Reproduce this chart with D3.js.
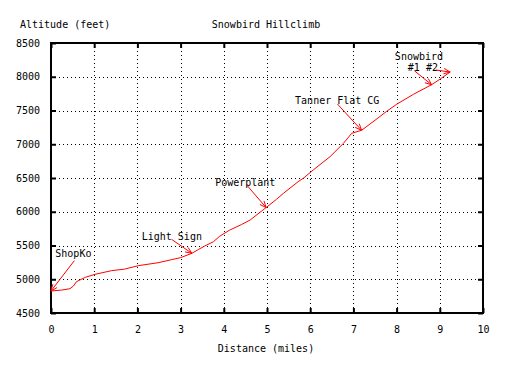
<!DOCTYPE html>
<html>
<head>
<meta charset="utf-8">
<script src="https://cdn.jsdelivr.net/npm/d3@7"></script>
<style>
  body { margin: 0; background: #fff; }
  svg { display: block; }
  text { font-family: "DejaVu Sans Mono", "Liberation Mono", monospace; font-size: 10px; fill: #000; }
</style>
</head>
<body>
<svg id="chart" width="522" height="367"></svg>
<script>
// ---- data ----
const distance = [0, 0.25, 0.44, 0.52, 0.59, 0.8, 1.02, 1.4, 1.7, 2.02, 2.48, 2.79, 3.0, 3.26, 3.41, 3.56, 3.76, 3.91, 4.14, 4.41, 4.61, 4.98, 5.22, 5.38, 5.72, 5.84, 6.07, 6.46, 6.77, 6.96, 7.19, 7.5, 7.77, 8.0, 8.39, 8.81, 9.0, 9.24];
const altitude = [4826, 4840, 4860, 4900, 4964, 5030, 5073, 5127, 5150, 5201, 5245, 5290, 5320, 5384, 5440, 5493, 5556, 5640, 5730, 5810, 5878, 6062, 6184, 6273, 6445, 6496, 6619, 6816, 7014, 7162, 7207, 7355, 7488, 7592, 7740, 7882, 7962, 8070];
const xTicks = [0, 1, 2, 3, 4, 5, 6, 7, 8, 9, 10];
const yTicks = [4500, 5000, 5500, 6000, 6500, 7000, 7500, 8000, 8500];
const labelText = ["ShopKo", "Light Sign", "Powerplant", "Tanner Flat CG", "Snowbird", "#1 #2"];
const labelX = [0.1, 2.1, 3.8, 5.65, 7.96, 8.26];
const labelY = [5370, 5630, 6430, 7641, 8297, 8134];
const arrowFromX = [0.54, 2.79, 4.53, 6.63, 8.41, 8.91];
const arrowFromY = [5275, 5592, 6396, 7596, 8090, 8100];
const arrowToX = [0, 3.26, 4.98, 7.19, 8.81, 9.24];
const arrowToY = [4826, 5384, 6062, 7207, 7882, 8070];
const title = "Snowbird Hillclimb";
const xLabel = "Distance (miles)";
const yLabel = "Altitude (feet)";

// ---- layout ----
const svg = d3.select("#chart");
const pL = 51, pR = 483, pT = 43, pB = 313;
const W = pR - pL, H = pB - pT;
const x = d3.scaleLinear().domain([0, 10]).range([pL, pR]);
const y = d3.scaleLinear().domain([4500, 8500]).range([pB, pT]);

// grid
const grid = svg.append("g");
grid.selectAll("line.gx").data(xTicks.slice(1, -1)).enter().append("line")
  .attr("x1", d => Math.round(x(d)) + 0.5).attr("x2", d => Math.round(x(d)) + 0.5)
  .attr("y1", pT).attr("y2", pB)
  .attr("stroke", "#000").attr("stroke-width", 1).attr("stroke-dasharray", "1,3");
grid.selectAll("line.gy").data(yTicks.slice(1, -1)).enter().append("line")
  .attr("y1", d => Math.round(y(d)) + 0.5).attr("y2", d => Math.round(y(d)) + 0.5)
  .attr("x1", pL).attr("x2", pR)
  .attr("stroke", "#000").attr("stroke-width", 1).attr("stroke-dasharray", "1,3");

// axes (ticks inside, on all sides)
function styleAxis(g) {
  g.select(".domain").remove();
  g.selectAll(".tick line").attr("stroke", "#000").attr("stroke-width", 2);
  g.selectAll(".tick text").attr("font-family", "DejaVu Sans Mono, monospace").attr("font-size", 10).attr("fill", "#000");
}
svg.append("g").attr("transform", `translate(0,${pB})`)
  .call(d3.axisBottom(x).tickValues(xTicks).tickFormat(d3.format("d")).tickSizeInner(-5).tickSizeOuter(0).tickPadding(13))
  .call(styleAxis);
svg.append("g").attr("transform", `translate(0,${pT})`)
  .call(d3.axisTop(x).tickValues(xTicks).tickFormat("").tickSizeInner(-5).tickSizeOuter(0))
  .call(styleAxis);
svg.append("g").attr("transform", `translate(${pL},0)`)
  .call(d3.axisLeft(y).tickValues(yTicks).tickFormat(d3.format("d")).tickSizeInner(-5).tickSizeOuter(0).tickPadding(11))
  .call(styleAxis);
svg.append("g").attr("transform", `translate(${pR},0)`)
  .call(d3.axisRight(y).tickValues(yTicks).tickFormat("").tickSizeInner(-5).tickSizeOuter(0))
  .call(styleAxis);

// border
svg.append("rect").attr("x", pL).attr("y", pT).attr("width", W).attr("height", H)
  .attr("fill", "none").attr("stroke", "#000").attr("stroke-width", 2);

// line
const pts = distance.map((d, i) => [d, altitude[i]]);
svg.append("path").datum(pts)
  .attr("d", d3.line().x(d => x(d[0])).y(d => y(d[1])))
  .attr("fill", "none").attr("stroke", "#ff0000").attr("stroke-width", 1);

// annotations
const ann = svg.append("g");
labelText.forEach((t, i) => {
  ann.append("text").attr("x", x(labelX[i])).attr("y", y(labelY[i]))
    .attr("dominant-baseline", "middle").text(t);
});
arrowFromX.forEach((fx, i) => {
  const x1 = x(fx), y1 = y(arrowFromY[i]), x2 = x(arrowToX[i]), y2 = y(arrowToY[i]);
  ann.append("line").attr("x1", x1).attr("y1", y1).attr("x2", x2).attr("y2", y2)
    .attr("stroke", "#ff0000").attr("stroke-width", 1);
  const ang = Math.atan2(y2 - y1, x2 - x1), L = 7, a = 0.4;
  [-a, a].forEach(s => {
    ann.append("line").attr("x1", x2).attr("y1", y2)
      .attr("x2", x2 - L * Math.cos(ang + s)).attr("y2", y2 - L * Math.sin(ang + s))
      .attr("stroke", "#ff0000").attr("stroke-width", 1);
  });
});

// titles
svg.append("text").attr("x", 266).attr("y", 25).attr("text-anchor", "middle").attr("dominant-baseline", "middle").text(title);
svg.append("text").attr("x", 20).attr("y", 25).attr("dominant-baseline", "middle").text(yLabel);
svg.append("text").attr("x", 266).attr("y", 349).attr("text-anchor", "middle").attr("dominant-baseline", "middle").text(xLabel);
</script>
</body>
</html>
